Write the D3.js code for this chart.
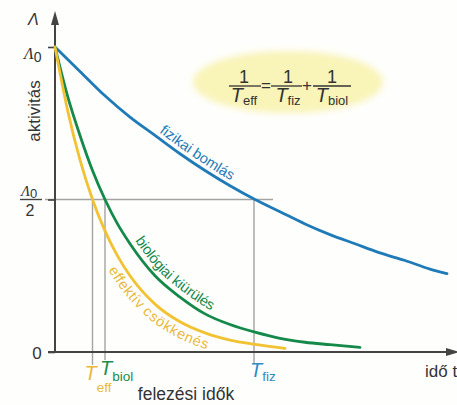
<!DOCTYPE html>
<html><head><meta charset="utf-8">
<script src="https://cdn.jsdelivr.net/npm/d3@7"></script>
<style>
html,body{margin:0;padding:0;background:#fefefc;}
svg{display:block;}
text{font-family:"Liberation Sans",Arial,sans-serif;}
</style></head>
<body>
<svg id="c" width="457" height="405"></svg>
<script>
// ---- data (time in arbitrary units, activity relative to Λ0) ----
const tFiz = [0, 0.5, 1, 1.5, 2, 2.5, 3, 3.5, 4, 4.5, 5, 5.5, 6, 6.5, 7, 7.5, 7.84];
const fizikai = [1, 0.92, 0.84, 0.77, 0.71, 0.65, 0.595, 0.545, 0.5, 0.46, 0.42, 0.385, 0.355, 0.325, 0.30, 0.272, 0.257];
const tBiol = [0, 0.25, 0.5, 0.75, 1, 1.25, 1.5, 2, 2.5, 3, 3.5, 4, 4.5, 5, 5.5, 6.1];
const biologiai = [1, 0.84, 0.71, 0.595, 0.5, 0.42, 0.355, 0.25, 0.18, 0.125, 0.09, 0.065, 0.045, 0.032, 0.024, 0.015];
const tEff = [0, 0.25, 0.5, 0.75, 1, 1.25, 1.5, 2, 2.5, 3, 3.5, 4, 4.6];
const effektiv = [1, 0.794, 0.63, 0.5, 0.397, 0.315, 0.25, 0.157, 0.099, 0.0625, 0.039, 0.025, 0.012];
const halfLifeNames = ["eff", "biol", "fiz"];
const halfLifeValues = [0.75, 1.0, 3.98];
const yTickValues = [0, 0.5, 1];
const curveLabels = ["fizikai bomlás", "biológiai kiürülés", "effektív csökkenés"];

const blue = "#1f7bb8", green = "#14894a", yellow = "#f1c232";
const blueT = "#2a8cc8", greenT = "#1a8c4e", yellowT = "#e9b93a";
const axisCol = "#444", gridCol = "#a3a3a3", textCol = "#333";

const svg = d3.select("#c");
const x = d3.scaleLinear().domain([0, 8.04]).range([55, 457]);
const y = d3.scaleLinear().domain([0, 1]).range([352, 47]);

// defs
const defs = svg.append("defs");
const blur = defs.append("filter").attr("id","blur").attr("x","-20%").attr("y","-40%").attr("width","140%").attr("height","180%");
blur.append("feGaussianBlur").attr("stdDeviation", 3);

// formula ellipse
svg.append("ellipse").attr("cx",288).attr("cy",82).attr("rx",95).attr("ry",31)
  .attr("fill","#f9f4b8").attr("filter","url(#blur)");

// reference lines (half-lives)
const halfIdx = [0,1,2];
svg.append("line").attr("x1",45).attr("x2",273).attr("y1",y(0.5)).attr("y2",y(0.5))
  .attr("stroke",gridCol).attr("stroke-width",1.4);
const vEnd = [365, 360, 364];
halfIdx.forEach(i => {
  svg.append("line").attr("x1",x(halfLifeValues[i])).attr("x2",x(halfLifeValues[i]))
    .attr("y1",y(0.5)).attr("y2",vEnd[i]).attr("stroke",gridCol).attr("stroke-width",1.4);
});

// axes
const yAxis = d3.axisLeft(y).tickValues(yTickValues).tickSize(7).tickFormat("");
const gy = svg.append("g").attr("transform","translate(55,0)").call(yAxis);
gy.select(".domain").remove();
gy.selectAll(".tick line").attr("stroke",axisCol).attr("stroke-width",1.6);
svg.append("line").attr("x1",55).attr("x2",55).attr("y1",y(0)).attr("y2",24)
  .attr("stroke",axisCol).attr("stroke-width",2);
svg.append("path").attr("d","M51,25 L55,11 L59,25 Z").attr("fill",axisCol);
svg.append("line").attr("x1",48).attr("x2",447).attr("y1",y(0)).attr("y2",y(0))
  .attr("stroke",axisCol).attr("stroke-width",2);
svg.append("path").attr("d",`M446,${y(0)-4} L460,${y(0)} L446,${y(0)+4} Z`).attr("fill",axisCol);

// curves
const line = d3.line().x(d=>x(d[0])).y(d=>y(d[1])).curve(d3.curveMonotoneX);
const series = [
  {t:tFiz, v:fizikai, col:blue, id:"pFiz", label:curveLabels[0], startX:156, dy:-5, tcol:blue},
  {t:tBiol, v:biologiai, col:green, id:"pBiol", label:curveLabels[1], startX:130, dy:-6, tcol:green},
  {t:tEff, v:effektiv, col:yellow, id:"pEff", label:curveLabels[2], startX:121, dy:15, tcol:yellowT},
];
series.forEach(s => {
  const pts = s.t.map((t,i)=>[t, s.v[i]]);
  const p = svg.append("path").attr("id",s.id).attr("d",line(pts))
    .attr("fill","none").attr("stroke",s.col).attr("stroke-width",2.8).attr("stroke-linecap","round");
  const node = p.node();
  const L = node.getTotalLength();
  let lo=0, hi=L;
  for (let k=0;k<40;k++){ const m=(lo+hi)/2; if(node.getPointAtLength(m).x < s.startX) lo=m; else hi=m; }
  svg.append("text").attr("font-size",14.5).attr("fill",s.tcol).attr("dy",s.dy)
    .append("textPath").attr("href","#"+s.id).attr("startOffset",lo).text(s.label);
});

// y labels
svg.append("text").attr("x",28).attr("y",25).attr("font-family","Liberation Serif, serif")
  .attr("font-style","italic").attr("font-size",16).attr("fill",textCol).text("Λ");
const l0 = svg.append("text").attr("x",24).attr("y",59).attr("fill",textCol);
l0.append("tspan").attr("font-family","Liberation Serif, serif").attr("font-style","italic").attr("font-size",16).text("Λ");
l0.append("tspan").attr("font-size",14).attr("dy",3).text("0");
const l2 = svg.append("text").attr("x",21).attr("y",196).attr("fill",textCol);
l2.append("tspan").attr("font-family","Liberation Serif, serif").attr("font-style","italic").attr("font-size",15).text("Λ");
l2.append("tspan").attr("font-size",13).attr("dy",2).text("0");
svg.append("line").attr("x1",20).attr("x2",42).attr("y1",y(0.5)).attr("y2",y(0.5)).attr("stroke",axisCol).attr("stroke-width",1.4);
svg.append("text").attr("x",30).attr("y",216).attr("text-anchor","middle").attr("font-size",16).attr("fill",textCol).text("2");
svg.append("text").attr("x",37).attr("y",y(0)+7).attr("text-anchor","middle").attr("font-size",17).attr("fill",textCol).text("0");
svg.append("text").attr("transform","translate(40,111) rotate(-90)").attr("text-anchor","middle")
  .attr("font-size",17).attr("fill",textCol).text("aktivitás");

// x labels
const tLab = [
  {dx:-8, base:380, sub:392, col:yellowT},
  {dx:-5, base:375, sub:381, col:greenT},
  {dx:-4, base:377, sub:381, col:blueT},
];
halfIdx.forEach(i => {
  const g = svg.append("text").attr("x", x(halfLifeValues[i]) + tLab[i].dx).attr("y", tLab[i].base).attr("fill", tLab[i].col);
  g.append("tspan").attr("font-style","italic").attr("font-size",20).text("T");
  g.append("tspan").attr("font-size",13.5).attr("dy", tLab[i].sub - tLab[i].base).text(halfLifeNames[i]);
});
svg.append("text").attr("x",186).attr("y",400).attr("text-anchor","middle").attr("font-size",17.5).attr("fill",textCol).text("felezési idők");
svg.append("text").attr("x",425).attr("y",377).attr("font-size",17).attr("fill",textCol).text("idő t");

// formula
function frac(cx, x1, x2, subs){
  svg.append("text").attr("x",cx).attr("y",83).attr("text-anchor","middle").attr("font-size",18).attr("fill",textCol).text("1");
  svg.append("line").attr("x1",x1).attr("x2",x2).attr("y1",86).attr("y2",86).attr("stroke",textCol).attr("stroke-width",1.3);
  const d = svg.append("text").attr("x",cx).attr("y",102).attr("text-anchor","middle").attr("fill",textCol);
  d.append("tspan").attr("font-style","italic").attr("font-size",20).text("T");
  d.append("tspan").attr("font-size",13).attr("dy",3).text(subs);
}
frac(244, 229, 261, halfLifeNames[0]);
frac(288, 271, 302, halfLifeNames[2]);
frac(332, 313, 351, halfLifeNames[1]);
svg.append("text").attr("x",266).attr("y",91).attr("text-anchor","middle").attr("font-size",17).attr("fill",textCol).text("=");
svg.append("text").attr("x",307).attr("y",91).attr("text-anchor","middle").attr("font-size",17).attr("fill",textCol).text("+");
</script>
</body></html>
